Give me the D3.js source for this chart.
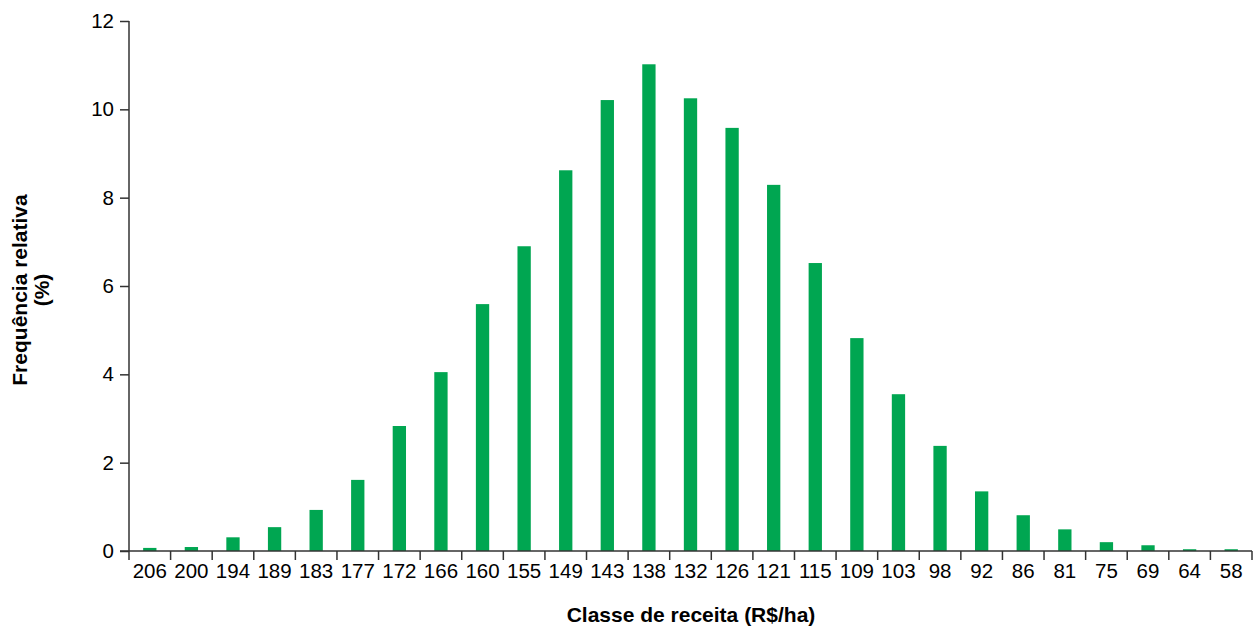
<!DOCTYPE html>
<html><head><meta charset="utf-8">
<script src="https://cdn.jsdelivr.net/npm/d3@7"></script>
<style>body{margin:0;background:#fff}svg{display:block}text{font-family:"Liberation Sans",Arial,sans-serif}</style>
</head><body><svg id="c" width="1255" height="628"></svg>
<script>
const categories = ["206","200","194","189","183","177","172","166","160","155","149","143","138","132","126","121","115","109","103","98","92","86","81","75","69","64","58"];
const values = [0.07,0.09,0.31,0.54,0.93,1.61,2.83,4.05,5.59,6.9,8.62,10.21,11.02,10.25,9.58,8.29,6.52,4.82,3.55,2.38,1.35,0.81,0.49,0.20,0.13,0.04,0.04];
const yTicks = [0,2,4,6,8,10,12];

const svg = d3.select("#c");
const x = d3.scaleBand().domain(categories).range([129,1252]).paddingInner(0.68).paddingOuter(0.34);
const y = d3.scaleLinear().domain([0,12]).range([551,21]);

svg.selectAll("rect.bar").data(values).join("rect")
  .attr("x",(d,i)=>x(categories[i])).attr("width",x.bandwidth())
  .attr("y",d=>y(d)).attr("height",d=>y(0)-y(d)).attr("fill","#00a651");

// y axis
const ya = svg.append("g").attr("transform","translate(129,0)")
  .call(d3.axisLeft(y).tickValues(yTicks).tickSize(9).tickPadding(6));
ya.selectAll("text").attr("font-size",20.5).attr("fill","#000").style("font-family","Liberation Sans, Arial");
ya.selectAll("line,path").attr("stroke","#333").attr("stroke-width",1.5);
ya.select("path").attr("d","M0,21V551");

// x axis
const xa = svg.append("g").attr("transform","translate(0,551)")
  .call(d3.axisBottom(x).tickSize(0).tickPadding(12));
xa.select("path").attr("d","M120,0H1252").attr("stroke","#333").attr("stroke-width",1.5);
xa.selectAll("text").attr("font-size",20.5).attr("fill","#000").style("font-family","Liberation Sans, Arial");
const step = x.step();
const bounds = d3.range(categories.length+1).map(i=>129+i*step);
xa.selectAll("line.b").data(bounds).join("line").attr("class","b")
  .attr("x1",d=>d).attr("x2",d=>d).attr("y1",0).attr("y2",9)
  .attr("stroke","#333").attr("stroke-width",1.5);

// titles
svg.append("text").attr("x",691).attr("y",622).attr("text-anchor","middle")
  .attr("font-size",21).attr("font-weight","bold").text("Classe de receita (R$/ha)");
const yt = svg.append("text").attr("transform","translate(27,290) rotate(-90)")
  .attr("text-anchor","middle").attr("font-size",21).attr("font-weight","bold");
yt.append("tspan").attr("x",0).attr("dy",0).text("Frequência relativa");
yt.append("tspan").attr("x",0).attr("dy",22).text("(%)");
</script></body></html>
